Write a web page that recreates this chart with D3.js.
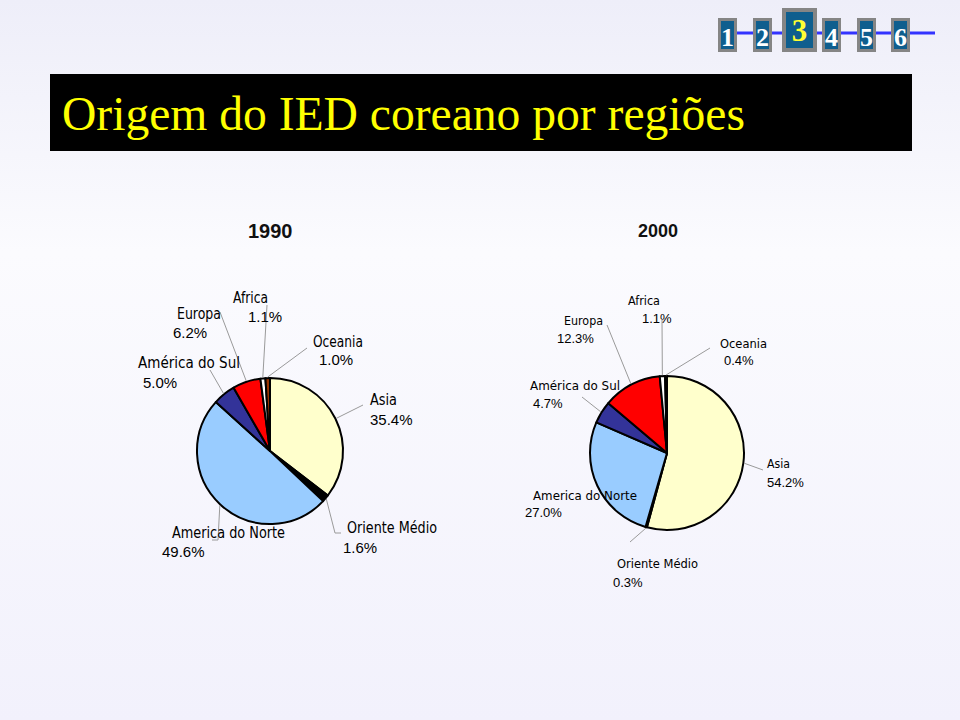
<!DOCTYPE html>
<html>
<head>
<meta charset="utf-8">
<script src="https://cdn.jsdelivr.net/npm/d3@7/dist/d3.min.js"></script>
<style>
html,body{margin:0;padding:0;background:#fff;}
svg{display:block;}
</style>
</head>
<body>
<svg id="chart" width="960" height="720"></svg>
<script>
// ---- data ----
const regions = ["Asia", "Oriente Médio", "America do Norte", "América do Sul", "Europa", "Africa", "Oceania"];
const values1990 = [35.4, 1.6, 49.6, 5.0, 6.2, 1.1, 1.0];
const values2000 = [54.2, 0.3, 27.0, 4.7, 12.3, 1.1, 0.4];
const years = ["1990", "2000"];
const navPages = ["1", "2", "3", "4", "5", "6"];
const currentPage = "3";
const titleText = "Origem do IED coreano por regiões";

// ---- styles / layout ----
const sliceColors = ["#ffffcc", "#000000", "#99ccff", "#333399", "#ff0000", "#ffffff", "#993300"];

const svg = d3.select("#chart");
const defs = svg.append("defs");
const grad = defs.append("linearGradient").attr("id", "bg").attr("x1", 0).attr("y1", 0).attr("x2", 0).attr("y2", 1);
grad.append("stop").attr("offset", "0%").attr("stop-color", "#eeeef9");
grad.append("stop").attr("offset", "35%").attr("stop-color", "#fbfbfe");
grad.append("stop").attr("offset", "100%").attr("stop-color", "#f2f1fc");
svg.append("rect").attr("width", 960).attr("height", 720).attr("fill", "url(#bg)");

// ---- nav ----
svg.append("line").attr("x1", 737).attr("x2", 935).attr("y1", 33).attr("y2", 33)
  .attr("stroke", "#3333ff").attr("stroke-width", 3);
const navX = d3.scaleOrdinal().domain(navPages).range([718, 753, 782, 822, 857, 891]);
navPages.forEach(p => {
  const big = p === currentPage;
  const x = navX(p), y = big ? 8 : 18, w = big ? 35 : 19, h = big ? 44 : 34;
  const b = big ? 4 : 3;
  svg.append("rect").attr("x", x).attr("y", y).attr("width", w).attr("height", h).attr("fill", "#858585");
  svg.append("rect").attr("x", x + b).attr("y", y + b).attr("width", w - 2 * b).attr("height", h - 2 * b).attr("fill", "#0f5e8e");
  svg.append("text").attr("x", x + w / 2).attr("y", big ? 41 : 46)
    .attr("text-anchor", "middle")
    .attr("font-family", "'Liberation Serif','Times New Roman',serif")
    .attr("font-weight", "bold")
    .attr("font-size", big ? 31 : 26)
    .attr("fill", big ? "#ffff33" : "#ffffff")
    .text(p);
});

// ---- title ----
svg.append("rect").attr("x", 50).attr("y", 74).attr("width", 862).attr("height", 77).attr("fill", "#000");
svg.append("text").attr("x", 62).attr("y", 130)
  .attr("font-family", "'Liberation Serif','Times New Roman',serif")
  .attr("font-size", 48).attr("fill", "#ffff00")
  .attr("textLength", 683).attr("lengthAdjust", "spacingAndGlyphs")
  .text(titleText);

// ---- year labels ----
svg.append("text").attr("x", 248).attr("y", 238).attr("font-family", "'Liberation Sans',Arial,sans-serif")
  .attr("font-weight", "bold").attr("font-size", 20).attr("fill", "#111").text(years[0]);
svg.append("text").attr("x", 638).attr("y", 237).attr("font-family", "'Liberation Sans',Arial,sans-serif")
  .attr("font-weight", "bold").attr("font-size", 18).attr("fill", "#111").text(years[1]);

// ---- label layouts (positions only) ----
const layout1990 = {
  cx: 270, cy: 451, r: 73, fs: 15,
  labels: {
    "Africa":           {nx: 233, ny: 303, nw: 35,  px: 248, py: 322, lead: [[267, 305]]},
    "Europa":           {nx: 177, ny: 319, nw: 44,  px: 173, py: 338, lead: [[220, 312]]},
    "Oceania":          {nx: 313, ny: 347, nw: 50,  px: 319, py: 365, lead: [[307, 348]]},
    "América do Sul":   {nx: 138, ny: 368, nw: 102, px: 143, py: 388, lead: [[210, 370]]},
    "Asia":             {nx: 370, ny: 405, nw: 27,  px: 370, py: 425, lead: [[363, 405]]},
    "America do Norte": {nx: 172, ny: 538, nw: 113, px: 162, py: 557, lead: [[218, 540], [212, 540]]},
    "Oriente Médio":    {nx: 347, ny: 533, nw: 90,  px: 343, py: 553, lead: [[335, 533], [341, 533]]}
  }
};
const layout2000 = {
  cx: 667, cy: 453, r: 77, fs: 13,
  labels: {
    "Africa":           {nx: 628, ny: 305, nw: 32,  px: 642, py: 323, lead: [[662, 320]]},
    "Europa":           {nx: 564, ny: 325, nw: 39,  px: 557, py: 343, lead: [[607, 325]]},
    "Oceania":          {nx: 720, ny: 348, nw: 47,  px: 724, py: 365, lead: [[710, 348]]},
    "América do Sul":   {nx: 530, ny: 390, nw: 90,  px: 533, py: 408, lead: [[582, 397]]},
    "Asia":             {nx: 767, ny: 468, nw: 23,  px: 767, py: 487, lead: [[763, 470]]},
    "America do Norte": {nx: 533, ny: 500, nw: 104, px: 525, py: 517, lead: null},
    "Oriente Médio":    {nx: 617, ny: 568, nw: 81,  px: 613, py: 587, lead: [[630, 542]]}
  }
};

const color = d3.scaleOrdinal().domain(regions).range(sliceColors);
const pie = d3.pie().sort(null).value(d => d.v);

function drawPie(values, L) {
  const data = regions.map((k, i) => ({k, v: values[i]}));
  const arcs = pie(data);
  const arc = d3.arc().innerRadius(0).outerRadius(L.r);
  const g = svg.append("g").attr("transform", `translate(${L.cx},${L.cy})`);

  // leader lines
  arcs.forEach(a => {
    const lab = L.labels[a.data.k];
    if (!lab.lead) return;
    const m = (a.startAngle + a.endAngle) / 2;
    const sx = L.cx + (L.r + 1) * Math.sin(m), sy = L.cy - (L.r + 1) * Math.cos(m);
    const pts = [[sx, sy]].concat(lab.lead);
    svg.append("path").attr("d", d3.line()(pts)).attr("fill", "none")
      .attr("stroke", "#9a9a9a").attr("stroke-width", 1);
  });

  g.selectAll("path.slice").data(arcs).join("path").attr("class", "slice")
    .attr("d", arc).attr("fill", d => color(d.data.k))
    .attr("stroke", "#000").attr("stroke-width", 2).attr("stroke-linejoin", "round");

  arcs.forEach(a => {
    const lab = L.labels[a.data.k];
    svg.append("text").attr("x", lab.nx).attr("y", lab.ny)
      .attr("font-family", "'Liberation Sans Narrow','DejaVu Sans Condensed',sans-serif")
      .attr("font-size", L.fs).attr("fill", "#000")
      .attr("textLength", lab.nw).attr("lengthAdjust", "spacingAndGlyphs")
      .text(a.data.k);
    svg.append("text").attr("x", lab.px).attr("y", lab.py)
      .attr("font-family", "'Liberation Sans',Arial,sans-serif")
      .attr("font-size", L.fs).attr("fill", "#000")
      .text(d3.format(".1f")(a.data.v) + "%");
  });
}

drawPie(values1990, layout1990);
drawPie(values2000, layout2000);
</script>
</body>
</html>
